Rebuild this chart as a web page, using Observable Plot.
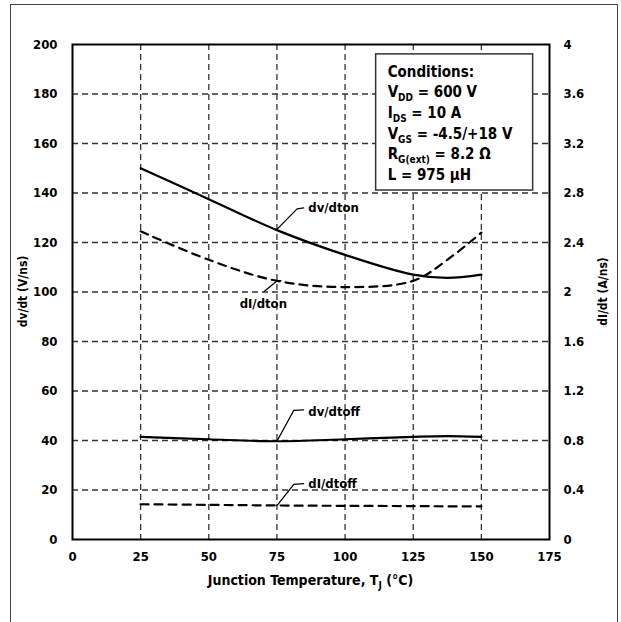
<!DOCTYPE html>
<html>
<head>
<meta charset="utf-8">
<script src="https://cdn.jsdelivr.net/npm/d3@7"></script>
<script src="https://cdn.jsdelivr.net/npm/@observablehq/plot@0.6"></script>
<style>
  html, body { margin: 0; padding: 0; background: #fff; }
  #wrap { position: relative; width: 621px; height: 622px; overflow: hidden; }
  #border { position: absolute; left: 10px; top: 4px; width: 608px; height: 640px; border: 1.5px solid #444; box-sizing: border-box; }
  #chart { position: absolute; left: 0; top: 0; }
  svg text { font-family: "DejaVu Sans Condensed", "DejaVu Sans", sans-serif; font-stretch: condensed; font-weight: bold; }
</style>
</head>
<body>
<div id="wrap"><div id="border"></div><div id="chart"></div></div>
<script>
// ---- data ----
const temps  = [25, 50, 75, 100, 125, 137.5, 150];          // Tj (°C)
const dvOn   = [150, 137.5, 125, 115, 107, 105.7, 107];     // V/ns
const diOn   = [2.49, 2.26, 2.09, 2.04, 2.09, 2.26, 2.48];   // A/ns
const dvOff  = [41.5, 40.5, 39.7, 40.5, 41.5, 41.8, 41.5];  // V/ns
const diOff  = [0.285, 0.28, 0.275, 0.272, 0.27, 0.268, 0.267]; // A/ns

const xTicks = [0, 25, 50, 75, 100, 125, 150, 175];
const yTicks = [0, 20, 40, 60, 80, 100, 120, 140, 160, 180, 200];
const yRightTicks = [0, 0.4, 0.8, 1.2, 1.6, 2, 2.4, 2.8, 3.2, 3.6, 4];
const ratio = 50; // 200 V/ns on the left <-> 4 A/ns on the right

const labelNames = ["dv/dton", "dI/dton", "dv/dtoff", "dI/dtoff"];
const labelX = [86.5, 70, 86.5, 86.5];
const labelY = [134, 95.4, 51.6, 22.6];
const labelAnchor = ["start", "middle", "start", "start"];
const leaderPaths = [
  [[75, 125.3], [82.4, 133.6], [84.8, 134]],
  [[76.5, 104.6], [75, 104.4], [70.3, 100.2]],
  [[75, 39.7], [81.2, 52.2], [84.8, 52.4]],
  [[75, 13.7], [81.2, 22.3], [84.8, 22.6]]
];

const condMain = ["Conditions:", "V", "I", "V", "R", "L = 975 µH"];
const condSub  = ["", "DD", "DS", "GS", "G(ext)", ""];
const condRest = ["", " = 600 V", " = 10 A", " = -4.5/+18 V", " = 8.2 Ω", ""];
const condBox = {x1: 111.4, x2: 169, y1: 141, y2: 196};

// ---- tables ----
const rows = temps.map((t, i) => ({t, dvOn: dvOn[i], diOn: diOn[i], dvOff: dvOff[i], diOff: diOff[i]}));
const labels = labelNames.map((name, i) => ({name, x: labelX[i], y: labelY[i], anchor: labelAnchor[i]}));
const leaders = leaderPaths.flatMap((p, k) => p.map(([x, y]) => ({k, x, y})));

const W = 621, H = 622;
const plot = Plot.plot({
  width: W, height: H,
  marginLeft: 72, marginRight: 72, marginTop: 44, marginBottom: 83,
  x: {domain: [0, 175]},
  y: {domain: [0, 200]},
  style: {background: "transparent", color: "#000", fontSize: "13px"},
  marks: [
    Plot.gridX(xTicks.slice(1, -1), {stroke: "#333", strokeOpacity: 1, strokeWidth: 1.3, strokeDasharray: "6,4"}),
    Plot.gridY(yTicks.slice(1, -1), {stroke: "#333", strokeOpacity: 1, strokeWidth: 1.3, strokeDasharray: "6,4"}),
    Plot.rect([condBox], {x1: "x1", x2: "x2", y1: "y1", y2: "y2", fill: "white", stroke: "#333", strokeWidth: 1.5}),
    Plot.line(rows, {x: "t", y: "dvOn", stroke: "black", strokeWidth: 2.2, curve: "catmull-rom"}),
    Plot.line(rows, {x: "t", y: d => d.diOn * ratio, stroke: "black", strokeWidth: 2.2, strokeDasharray: "8,6", curve: "catmull-rom"}),
    Plot.line(rows, {x: "t", y: "dvOff", stroke: "black", strokeWidth: 2.2, curve: "catmull-rom"}),
    Plot.line(rows, {x: "t", y: d => d.diOff * ratio, stroke: "black", strokeWidth: 2.2, strokeDasharray: "8,6", curve: "catmull-rom"}),
    Plot.line(leaders, {x: "x", y: "y", z: "k", stroke: "black", strokeWidth: 1.3}),
    Plot.text(labels.filter(d => d.anchor === "start"), {x: "x", y: "y", text: "name", textAnchor: "start", fontSize: 13, fontWeight: "bold", fill: "black"}),
    Plot.text(labels.filter(d => d.anchor === "middle"), {x: "x", y: "y", text: "name", textAnchor: "middle", fontSize: 13, fontWeight: "bold", fill: "black"}),
    Plot.frame({stroke: "black", strokeWidth: 2}),
    Plot.axisX({ticks: xTicks, tickSize: 0, tickPadding: 12, fontSize: 13, fontWeight: "bold", label: null}),
    Plot.axisY({ticks: yTicks, anchor: "left", tickSize: 0, tickPadding: 15, fontSize: 13, fontWeight: "bold", label: null}),
    Plot.axisY({ticks: yRightTicks.map(v => v * ratio), anchor: "right", tickSize: 0, tickPadding: 14, fontSize: 13, fontWeight: "bold", label: null,
      tickFormat: v => String(yRightTicks[Math.round(v / (ratio * 0.4))])})
  ]
});
document.getElementById("chart").appendChild(plot);

// ---- rich text (subscripts) ----
const svg = d3.select(plot);
const sx = plot.scale("x"), sy = plot.scale("y");

// axis titles
const xt = svg.append("text").attr("x", (sx.apply(0) + sx.apply(175)) / 2).attr("y", 585)
  .attr("text-anchor", "middle").attr("font-size", 14).attr("fill", "black");
xt.append("tspan").text("Junction Temperature, T");
xt.append("tspan").attr("font-size", 10).attr("dy", 4).text("J");
xt.append("tspan").attr("dy", -4).text(" (°C)");

const yMid = (sy.apply(0) + sy.apply(200)) / 2;
svg.append("text").attr("transform", `translate(27,${yMid}) rotate(-90)`)
  .attr("text-anchor", "middle").attr("font-size", 12).attr("fill", "black").text("dv/dt (V/ns)");
svg.append("text").attr("transform", `translate(607,${yMid}) rotate(-90)`)
  .attr("text-anchor", "middle").attr("font-size", 12).attr("fill", "black").text("dI/dt (A/ns)");

// conditions box text
const bx = sx.apply(condBox.x1) + 12;
const by = sy.apply(condBox.y2);
condMain.forEach((m, i) => {
  const t = svg.append("text").attr("x", bx).attr("y", by + 22.7 + i * 20.7)
    .attr("text-anchor", "start").attr("font-size", 15).attr("fill", "black");
  t.append("tspan").text(m);
  if (condSub[i]) {
    t.append("tspan").attr("font-size", 10).attr("dy", 4).text(condSub[i]);
    t.append("tspan").attr("dy", -4).text(condRest[i]);
  }
});
</script>
</body>
</html>
